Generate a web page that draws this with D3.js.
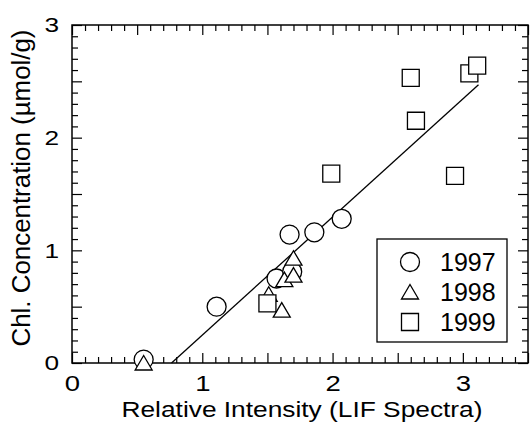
<!DOCTYPE html>
<html>
<head>
<meta charset="utf-8">
<script src="https://cdn.jsdelivr.net/npm/d3@7"></script>
<style>
  body { margin: 0; background: #fff; }
  svg text { font-family: "Liberation Sans", Arial, Helvetica, sans-serif; fill: #000; }
</style>
</head>
<body>
<div id="chart"></div>
<script>
// values
let x1997 = [0.55, 1.11, 1.57, 1.69, 1.67, 1.86, 2.07],
    y1997 = [0.03, 0.50, 0.75, 0.81, 1.14, 1.16, 1.28];
let x1998 = [0.55, 1.51, 1.61, 1.63, 1.70, 1.70],
    y1998 = [0.00, 0.61, 0.47, 0.74, 0.78, 0.93];
let x1999 = [1.50, 1.99, 2.60, 2.64, 2.94, 3.05, 3.11],
    y1999 = [0.53, 1.68, 2.53, 2.15, 1.66, 2.57, 2.64];
let fitX = [0.764, 3.12],
    fitY = [0, 2.47];
let xTickLabels = [0, 1, 2, 3],
    yTickLabels = [0, 1, 2, 3];
let years = ["1997", "1998", "1999"];

let width = 531, height = 428;
let margin = {top: 25, right: 3, bottom: 65, left: 72};

let x = d3.scaleLinear().domain([0, 3.5]).range([margin.left, width - margin.right]);
let y = d3.scaleLinear().domain([0, 3]).range([height - margin.bottom, margin.top]);

let svg = d3.select("#chart").append("svg")
    .attr("width", width)
    .attr("height", height);

// inward ticks on all four sides, long every 0.5
let xMinor = d3.range(0, 36).filter(i => i % 5 !== 0).map(i => i / 10),
    xMajor = d3.range(0, 36, 5).map(i => i / 10),
    yMinor = d3.range(0, 31).filter(i => i % 5 !== 0).map(i => i / 10),
    yMajor = d3.range(0, 31, 5).map(i => i / 10);

function tickAxis(axisFn, scale, values, size, transform) {
    let g = svg.append("g")
        .attr("transform", transform)
        .call(axisFn(scale).tickValues(values).tickSize(-size).tickFormat(() => ""));
    g.select(".domain").remove();
    g.selectAll("line").attr("stroke", "#000").attr("stroke-width", 1.2);
}
let yb = y(0), yt = y(3), xl = x(0), xr = x(3.5);
tickAxis(d3.axisBottom, x, xMinor, 6, "translate(0," + yb + ")");
tickAxis(d3.axisBottom, x, xMajor, 10, "translate(0," + yb + ")");
tickAxis(d3.axisTop, x, xMinor, 6, "translate(0," + yt + ")");
tickAxis(d3.axisTop, x, xMajor, 10, "translate(0," + yt + ")");
tickAxis(d3.axisLeft, y, yMinor, 6, "translate(" + xl + ",0)");
tickAxis(d3.axisLeft, y, yMajor, 10, "translate(" + xl + ",0)");
tickAxis(d3.axisRight, y, yMinor, 6, "translate(" + xr + ",0)");
tickAxis(d3.axisRight, y, yMajor, 10, "translate(" + xr + ",0)");

// tick labels
let gx = svg.append("g")
    .attr("transform", "translate(0," + yb + ")")
    .call(d3.axisBottom(x).tickValues(xTickLabels).tickSize(0).tickPadding(12).tickFormat(d3.format("d")));
gx.select(".domain").remove();
gx.selectAll("text")
    .attr("font-size", 22)
    .attr("font-family", null)
    .attr("transform", "scale(1.25,1)");

let gy = svg.append("g")
    .attr("transform", "translate(" + xl + ",0)")
    .call(d3.axisLeft(y).tickValues(yTickLabels).tickSize(0).tickFormat(d3.format("d")));
gy.select(".domain").remove();
gy.selectAll("text")
    .attr("font-size", 21)
    .attr("font-family", null)
    .attr("x", 0)
    .attr("transform", "translate(-13,0) scale(1.25,1)");

// frame
svg.append("rect")
    .attr("x", xl).attr("y", yt)
    .attr("width", xr - xl).attr("height", yb - yt)
    .attr("fill", "none").attr("stroke", "#000").attr("stroke-width", 1.5);

// fit line
svg.append("path")
    .datum(d3.zip(fitX, fitY))
    .attr("fill", "none")
    .attr("stroke", "#000")
    .attr("stroke-width", 1.3)
    .attr("d", d3.line().x(d => x(d[0])).y(d => y(d[1])));

// marker shapes
let circlePath = "M9.5,0A9.5,9.5 0 1,1 -9.5,0A9.5,9.5 0 1,1 9.5,0Z",
    trianglePath = "M0,-7.5L8.5,7L-8.5,7Z",
    squarePath = "M-8.5,-8.5H8.5V8.5H-8.5Z";
let shapes = [circlePath, trianglePath, squarePath];

function drawMarkers(xs, ys, shape) {
    svg.append("g").selectAll("path")
        .data(d3.zip(xs, ys))
        .join("path")
        .attr("transform", d => "translate(" + x(d[0]) + "," + y(d[1]) + ")")
        .attr("d", shape)
        .attr("fill", "#fff")
        .attr("stroke", "#000")
        .attr("stroke-width", 1.3);
}
drawMarkers(x1997, y1997, circlePath);
drawMarkers(x1998, y1998, trianglePath);
drawMarkers(x1999, y1999, squarePath);

// legend
let legend = svg.append("g").attr("transform", "translate(377,239)");
legend.append("rect")
    .attr("width", 130).attr("height", 103)
    .attr("fill", "#fff").attr("stroke", "#000").attr("stroke-width", 1.3);
years.forEach((yr, i) => {
    let row = legend.append("g").attr("transform", "translate(33," + (23 + i * 30) + ")");
    row.append("path")
        .attr("d", shapes[i])
        .attr("fill", "#fff").attr("stroke", "#000").attr("stroke-width", 1.3);
    row.append("text")
        .attr("x", 30).attr("y", 9)
        .attr("font-size", 25)
        .text(yr);
});

// axis titles
svg.append("text")
    .attr("x", 302).attr("y", 417)
    .attr("text-anchor", "middle")
    .attr("font-size", 22)
    .attr("textLength", 361)
    .attr("lengthAdjust", "spacingAndGlyphs")
    .text("Relative Intensity (LIF Spectra)");

svg.append("text")
    .attr("transform", "translate(30,188) rotate(-90)")
    .attr("text-anchor", "middle")
    .attr("font-size", 25)
    .attr("textLength", 317)
    .attr("lengthAdjust", "spacingAndGlyphs")
    .text("Chl. Concentration (µmol/g)");
</script>
</body>
</html>
